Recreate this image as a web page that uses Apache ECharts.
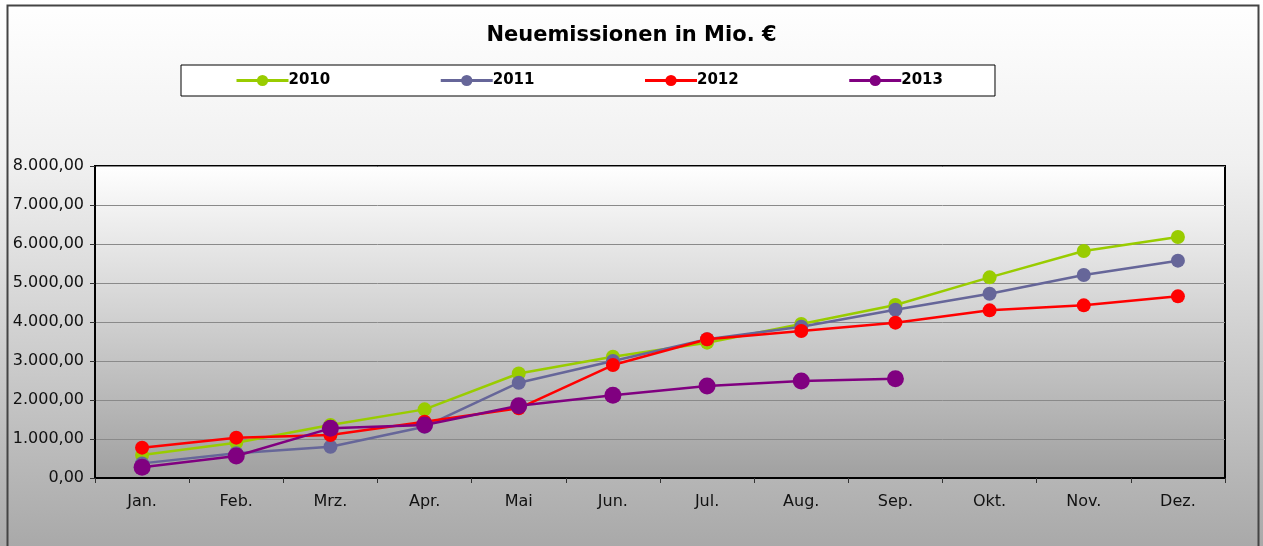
<!DOCTYPE html>
<html>
<head>
<meta charset="utf-8">
<script src="https://cdn.jsdelivr.net/npm/echarts@6/dist/echarts.min.js"></script>
<style>
  html, body { margin: 0; padding: 0; }
  #main { width: 1263px; height: 546px; }
</style>
</head>
<body>
<div id="main"></div>
<script>
// Monate
var months = ['Jan.', 'Feb.', 'Mrz.', 'Apr.', 'Mai', 'Jun.', 'Jul.', 'Aug.', 'Sep.', 'Okt.', 'Nov.', 'Dez.'];

// Neuemissionen in Mio. €
var years = ['2010', '2011', '2012', '2013'];
var data2010 = [590, 905, 1360, 1760, 2680, 3110, 3470, 3950, 4435, 5145, 5820, 6180];
var data2011 = [375, 633, 803, 1316, 2444, 3000, 3560, 3880, 4316, 4726, 5205, 5573];
var data2012 = [778, 1034, 1103, 1444, 1786, 2897, 3556, 3770, 3983, 4299, 4427, 4658];
var data2013 = [274, 564, 1273, 1359, 1855, 2120, 2360, 2487, 2547, null, null, null];

var colors = ['#99cc00', '#666699', '#ff0000', '#800080'];

var fmtDE = function (v) {
  var s = Math.round(v).toString().replace(/\B(?=(\d{3})+(?!\d))/g, '.');
  return s + ',00';
};

window.onload = function () {
  var chart = echarts.init(document.getElementById('main'));

  var mkSeries = function (name, data, color, size) {
    return {
      name: name,
      type: 'line',
      data: data,
      color: color,
      symbol: 'circle',
      symbolSize: size,
      showAllSymbol: true,
      lineStyle: { width: 2.5, color: color },
      itemStyle: { color: color },
      emphasis: { disabled: true },
      animation: false
    };
  };

  var option = {
    backgroundColor: {
      type: 'linear', x: 0, y: 0, x2: 0, y2: 1,
      colorStops: [
        { offset: 0, color: '#ffffff' },
        { offset: 0.3, color: '#f0f0f0' },
        { offset: 1, color: '#a9a9a9' }
      ]
    },
    textStyle: { fontFamily: 'DejaVu Sans' },
    title: {
      text: 'Neuemissionen in Mio. €',
      left: 'center',
      top: 20,
      textStyle: { fontFamily: 'DejaVu Sans', fontSize: 21, fontWeight: 'bold', color: '#000' }
    },
    legend: {
      data: years,
      left: 181,
      top: 65,
      padding: [8, 52, 8, 54],
      itemGap: 109,
      itemWidth: 52,
      itemHeight: 14,
      backgroundColor: '#ffffff',
      borderColor: '#000',
      borderWidth: 1,
      lineStyle: { width: 3 },
      textStyle: { fontFamily: 'DejaVu Sans', fontSize: 15, fontWeight: 'bold', color: '#000', padding: [0, 0, 0, -5] }
    },
    grid: {
      left: 95,
      right: 38,
      top: 166,
      bottom: 68,
      show: true,
      borderColor: '#000',
      borderWidth: 2,
      backgroundColor: {
        type: 'linear', x: 0, y: 0, x2: 0, y2: 1,
        colorStops: [
          { offset: 0, color: '#ffffff' },
          { offset: 1, color: '#a0a0a0' }
        ]
      }
    },
    xAxis: {
      type: 'category',
      data: months,
      boundaryGap: true,
      axisLine: { lineStyle: { color: '#000', width: 2 } },
      axisTick: { show: true, length: 5, alignWithLabel: false, lineStyle: { color: '#333' } },
      axisLabel: { fontSize: 16, color: '#111', margin: 16, fontFamily: 'DejaVu Sans' }
    },
    yAxis: {
      type: 'value',
      min: 0,
      max: 8000,
      interval: 1000,
      axisLine: { show: true, lineStyle: { color: '#000', width: 2 } },
      axisTick: { show: true, length: 5, lineStyle: { color: '#333' } },
      axisLabel: { fontSize: 16, color: '#111', margin: 11, fontFamily: 'DejaVu Sans', formatter: fmtDE },
      splitLine: { show: true, lineStyle: { color: '#8a8a8a', width: 1 } }
    },
    graphic: [
      {
        type: 'rect',
        shape: { x: 7.5, y: 5.5, width: 1251, height: 600 },
        style: { fill: null, stroke: '#444', lineWidth: 2 },
        silent: true
      }
    ],
    series: [
      mkSeries('2010', data2010, colors[0], 14),
      mkSeries('2011', data2011, colors[1], 14),
      mkSeries('2012', data2012, colors[2], 14),
      mkSeries('2013', data2013, colors[3], 17)
    ]
  };

  chart.setOption(option);
};
</script>
</body>
</html>
